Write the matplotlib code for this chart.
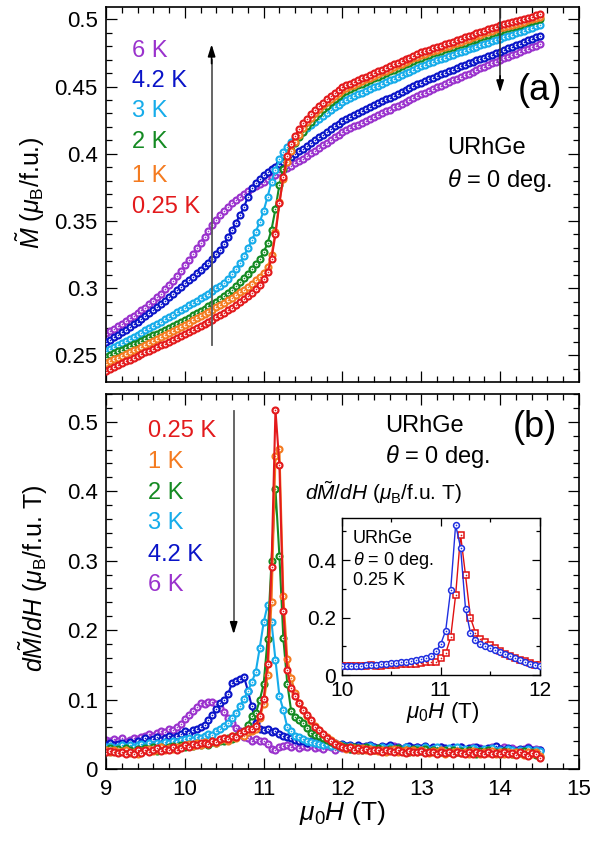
import numpy as np
import matplotlib
matplotlib.use('Agg')
import matplotlib.pyplot as plt
from matplotlib.ticker import MultipleLocator, FormatStrFormatter

plt.rcParams['font.family'] = ['Liberation Sans', 'DejaVu Sans']
plt.rcParams['mathtext.fontset'] = 'custom'
plt.rcParams['mathtext.rm'] = 'Liberation Sans'
plt.rcParams['mathtext.it'] = 'Liberation Sans:italic'
plt.rcParams['mathtext.bf'] = 'Liberation Sans:bold'

# measurement grid, 0.05 T steps
field = np.round(np.arange(9.0, 14.5001, 0.05), 2)
field_inset = np.round(np.arange(10.0, 12.0001, 0.05), 2)

temps = ['0.25 K', '1 K', '2 K', '3 K', '4.2 K', '6 K']
colors = ['#e31a1c', '#f47b20', '#148a22', '#16acea', '#0a14c8', '#9a32cd']

# magnetization (mu_B/f.u.)
m_025 = [.2380, .2395, .2410, .2425, .2440, .2455, .2468, .2482, .2495, .2508,
         .2521, .2534, .2547, .2560, .2573, .2586, .2600, .2614, .2628, .2642,
         .2656, .2671, .2686, .2701, .2717, .2733, .2749, .2766, .2783, .2800,
         .2818, .2836, .2855, .2875, .2896, .2918, .2941, .2966, .2993, .3025,
         .3065, .3120, .3220, .3400, .3630, .3830, .3980, .4070, .4135, .4185,
         .4225, .4260, .4293, .4324, .4353, .4380, .4405, .4429, .4452, .4474,
         .4495, .4508, .4521, .4534, .4547, .4560, .4573, .4586, .4599, .4612,
         .4625, .4638, .4651, .4664, .4677, .4690, .4703, .4716, .4729, .4742,
         .4755, .4765, .4775, .4785, .4795, .4805, .4815, .4825, .4835, .4845,
         .4855, .4865, .4875, .4885, .4895, .4905, .4915, .4925, .4935, .4945,
         .4955, .4963, .4971, .4979, .4988, .4996, .5004, .5012, .5020, .5029,
         .5037]
m_1 = [.2441, .2455, .2469, .2483, .2497, .2511, .2524, .2537, .2550, .2563,
       .2577, .2591, .2605, .2619, .2634, .2649, .2664, .2679, .2695, .2711,
       .2727, .2743, .2759, .2775, .2791, .2807, .2823, .2840, .2857, .2874,
       .2892, .2910, .2929, .2948, .2968, .2989, .3011, .3034, .3058, .3084,
       .3115, .3155, .3245, .3420, .3640, .3815, .3935, .4020, .4085, .4140,
       .4195, .4233, .4268, .4301, .4331, .4359, .4385, .4409, .4432, .4454,
       .4475, .4488, .4501, .4514, .4527, .4540, .4553, .4566, .4579, .4592,
       .4605, .4618, .4631, .4644, .4657, .4670, .4683, .4696, .4709, .4722,
       .4735, .4745, .4755, .4765, .4775, .4785, .4795, .4805, .4815, .4825,
       .4835, .4845, .4855, .4865, .4875, .4885, .4895, .4905, .4915, .4925,
       .4935, .4943, .4951, .4959, .4968, .4976, .4984, .4992, .5000, .5009,
       .5017]
m_2 = [.2490, .2503, .2516, .2529, .2542, .2555, .2568, .2581, .2594, .2607,
       .2620, .2634, .2648, .2662, .2676, .2690, .2704, .2719, .2734, .2749,
       .2765, .2781, .2797, .2813, .2829, .2846, .2863, .2880, .2898, .2916,
       .2938, .2962, .2988, .3015, .3044, .3075, .3108, .3143, .3180, .3220,
       .3265, .3335, .3435, .3590, .3770, .3890, .3970, .4030, .4080, .4125,
       .4165, .4203, .4238, .4271, .4302, .4331, .4358, .4384, .4408, .4431,
       .4452, .4466, .4480, .4494, .4508, .4521, .4534, .4547, .4560, .4573,
       .4586, .4599, .4612, .4625, .4638, .4651, .4664, .4677, .4690, .4703,
       .4716, .4726, .4736, .4746, .4756, .4766, .4776, .4786, .4796, .4806,
       .4816, .4826, .4836, .4846, .4856, .4866, .4876, .4886, .4896, .4906,
       .4916, .4925, .4934, .4943, .4952, .4961, .4970, .4979, .4988, .4997,
       .5005]
m_3 = [.2535, .2549, .2563, .2578, .2593, .2608, .2623, .2638, .2653, .2669,
       .2685, .2701, .2717, .2733, .2750, .2767, .2784, .2801, .2819, .2837,
       .2855, .2872, .2889, .2906, .2923, .2941, .2959, .2978, .2998, .3018,
       .3040, .3070, .3105, .3145, .3190, .3240, .3295, .3355, .3420, .3490,
       .3575, .3680, .3790, .3880, .3960, .4010, .4050, .4085, .4115, .4140,
       .4163, .4190, .4215, .4239, .4262, .4284, .4305, .4326, .4346, .4366,
       .4385, .4399, .4413, .4427, .4441, .4455, .4468, .4481, .4494, .4507,
       .4520, .4533, .4546, .4559, .4572, .4585, .4598, .4611, .4624, .4637,
       .4650, .4661, .4672, .4683, .4694, .4705, .4716, .4727, .4737, .4747,
       .4757, .4767, .4777, .4787, .4797, .4807, .4817, .4827, .4837, .4847,
       .4857, .4867, .4877, .4887, .4897, .4907, .4917, .4927, .4937, .4947,
       .4957]
m_42 = [.2597, .2615, .2633, .2652, .2671, .2690, .2710, .2730, .2750, .2770,
        .2791, .2813, .2836, .2859, .2883, .2907, .2932, .2957, .2983, .3009,
        .3036, .3060, .3084, .3109, .3135, .3162, .3190, .3219, .3250, .3283,
        .3330, .3380, .3435, .3488, .3544, .3600, .3680, .3745, .3783, .3815,
        .3840, .3862, .3883, .3903, .3922, .3941, .3960, .3979, .3998, .4017,
        .4038, .4059, .4080, .4101, .4122, .4143, .4164, .4184, .4204, .4224,
        .4244, .4259, .4274, .4289, .4304, .4319, .4334, .4348, .4362, .4376,
        .4390, .4404, .4418, .4432, .4446, .4460, .4474, .4488, .4502, .4516,
        .4530, .4542, .4554, .4566, .4578, .4590, .4602, .4614, .4626, .4638,
        .4650, .4661, .4672, .4683, .4694, .4705, .4716, .4727, .4738, .4749,
        .4760, .4772, .4784, .4796, .4808, .4820, .4832, .4844, .4856, .4867,
        .4878]
m_6 = [.2664, .2681, .2699, .2717, .2736, .2755, .2774, .2794, .2814, .2834,
       .2855, .2878, .2903, .2930, .2959, .2990, .3022, .3056, .3092, .3130,
       .3170, .3210, .3252, .3295, .3339, .3383, .3427, .3469, .3507, .3541,
       .3573, .3603, .3631, .3657, .3681, .3703, .3723, .3742, .3760, .3777,
       .3793, .3810, .3827, .3844, .3861, .3878, .3895, .3912, .3929, .3946,
       .3963, .3983, .4003, .4023, .4043, .4063, .4083, .4103, .4122, .4142,
       .4161, .4175, .4189, .4203, .4217, .4231, .4245, .4259, .4273, .4287,
       .4301, .4315, .4329, .4344, .4358, .4372, .4386, .4400, .4414, .4428,
       .4442, .4455, .4468, .4481, .4494, .4507, .4520, .4533, .4546, .4559,
       .4572, .4585, .4597, .4610, .4622, .4635, .4647, .4660, .4672, .4684,
       .4696, .4709, .4721, .4733, .4745, .4757, .4769, .4781, .4793, .4805,
       .4817]

# dM/dH (mu_B/f.u. T)
d_025 = [.024, .026, .025, .023, .025, .022, .024, .021, .027, .023,
         .028, .025, .027, .030, .026, .029, .027, .031, .028, .030,
         .035, .032, .036, .034, .038, .037, .036, .041, .039, .043,
         .045, .043, .048, .046, .052, .054, .057, .058, .062, .076,
         .101, .151, .291, .517, .438, .227, .142, .116, .105, .095,
         .085, .078, .070, .061, .056, .050, .045, .040, .036, .033,
         .031, .030, .032, .028, .030, .027, .029, .026, .028, .027,
         .025, .027, .026, .024, .027, .025, .023, .026, .024, .025,
         .026, .023, .025, .024, .022, .025, .023, .024, .022, .025,
         .023, .022, .024, .021, .025, .023, .022, .024, .021, .023,
         .022, .024, .021, .023, .020, .024, .022, .019, .023, .021,
         .016]
d_1 = [.027, .025, .028, .024, .026, .027, .023, .025, .022, .026,
       .027, .029, .026, .028, .031, .027, .030, .029, .032, .031,
       .034, .036, .033, .037, .035, .039, .036, .040, .038, .042,
       .044, .041, .047, .045, .050, .048, .053, .055, .058, .073,
       .094, .135, .241, .450, .461, .249, .159, .131, .109, .095,
       .085, .077, .069, .062, .056, .050, .046, .042, .038, .034,
       .032, .029, .031, .030, .028, .030, .027, .029, .028, .026,
       .028, .025, .027, .029, .024, .026, .028, .025, .027, .024,
       .027, .025, .023, .026, .024, .027, .022, .025, .024, .026,
       .023, .025, .022, .026, .024, .021, .025, .023, .026, .022,
       .024, .022, .025, .021, .024, .023, .020, .024, .022, .025,
       .019]
d_2 = [.028, .030, .027, .029, .026, .030, .028, .025, .029, .027,
       .030, .028, .031, .026, .032, .029, .031, .033, .030, .034,
       .032, .035, .033, .036, .034, .037, .035, .039, .037, .041,
       .040, .044, .043, .047, .051, .055, .064, .076, .080, .099,
       .122, .187, .300, .403, .307, .188, .123, .083, .075, .071,
       .066, .059, .052, .049, .047, .044, .042, .039, .036, .034,
       .033, .031, .029, .032, .030, .028, .031, .029, .027, .030,
       .028, .026, .029, .027, .030, .026, .028, .025, .029, .027,
       .026, .029, .025, .028, .026, .024, .027, .025, .028, .024,
       .026, .023, .027, .025, .022, .026, .024, .027, .023, .025,
       .022, .026, .024, .021, .025, .023, .026, .022, .024, .020,
       .017]
d_3 = [.031, .033, .030, .032, .034, .031, .035, .032, .034, .036,
       .033, .037, .035, .038, .036, .039, .037, .041, .039, .042,
       .043, .045, .042, .046, .044, .048, .051, .049, .054, .058,
       .062, .066, .073, .080, .090, .101, .112, .125, .140, .174,
       .211, .236, .211, .157, .105, .085, .060, .055, .048, .046,
       .043, .041, .039, .037, .036, .034, .036, .033, .035, .032,
       .034, .031, .033, .030, .032, .029, .031, .033, .030, .028,
       .031, .029, .032, .028, .030, .027, .031, .029, .027, .030,
       .028, .031, .027, .029, .032, .028, .026, .030, .028, .031,
       .027, .029, .026, .030, .028, .025, .029, .027, .030, .026,
       .028, .025, .029, .027, .024, .028, .026, .029, .025, .027,
       .026]
d_42 = [.035, .037, .034, .036, .038, .035, .039, .036, .040, .037,
        .045, .041, .043, .046, .042, .045, .048, .044, .047, .050,
        .054, .052, .056, .058, .061, .064, .070, .078, .087, .095,
        .099, .108, .124, .127, .129, .133, .113, .090, .066, .058,
        .056, .057, .053, .055, .050, .048, .046, .044, .042, .040,
        .041, .038, .040, .037, .039, .036, .038, .035, .037, .034,
        .036, .033, .035, .032, .034, .031, .033, .035, .032, .030,
        .033, .031, .034, .030, .032, .029, .031, .033, .030, .032,
        .030, .033, .029, .031, .028, .032, .030, .027, .031, .029,
        .031, .028, .030, .027, .031, .029, .026, .030, .028, .033,
        .029, .027, .030, .028, .026, .029, .027, .030, .028, .026,
        .028]
d_6 = [.042, .040, .043, .041, .044, .039, .042, .045, .043, .046,
       .048, .050, .047, .052, .055, .053, .058, .056, .061, .065,
       .072, .078, .083, .089, .095, .094, .097, .096, .093, .088,
       .082, .073, .066, .059, .054, .046, .044, .041, .043, .041,
       .040, .036, .029, .027, .031, .033, .035, .032, .034, .030,
       .033, .031, .034, .030, .032, .029, .033, .031, .028, .032,
       .030, .033, .029, .031, .028, .032, .030, .027, .031, .029,
       .032, .028, .030, .033, .029, .027, .031, .028, .030, .032,
       .029, .031, .027, .030, .028, .032, .029, .026, .030, .028,
       .031, .027, .029, .032, .028, .030, .026, .029, .031, .027,
       .029, .031, .027, .030, .028, .025, .029, .031, .027, .029,
       .027]

# inset, 0.25 K, two sweeps
ins_circ = [.030, .030, .031, .033, .033, .034, .036, .035, .038, .040,
            .042, .041, .047, .044, .050, .051, .055, .058, .065, .082,
            .108, .155, .296, .523, .444, .230, .146, .123, .108, .100,
            .093, .088, .080, .072, .066, .058, .052, .045, .040, .035,
            .033]
ins_sq = [.031, .030, .032, .030, .033, .031, .034, .032, .033, .035,
          .036, .035, .038, .037, .040, .039, .042, .045, .045, .047,
          .061, .076, .131, .278, .488, .347, .199, .148, .125, .115,
          .105, .095, .085, .075, .068, .060, .054, .048, .042, .036,
          .035]

mag = [m_025, m_1, m_2, m_3, m_42, m_6]
deriv = [d_025, d_1, d_2, d_3, d_42, d_6]


def draw(ax, x, y, c, ms=4.3, mew=1.55, lw=1.5, marker='o', z=2):
    ax.plot(x, y, '-', color=c, lw=lw, marker=marker, ms=ms, mfc='white',
            mec=c, mew=mew, zorder=z)
    ax.plot(x, y, linestyle='none', marker='o', ms=1.2, color=c, mew=0,
            zorder=z)


def style(ax, fs=16, major=8, minor=4):
    ax.tick_params(which='both', direction='in', top=True, right=True,
                   width=0.9, labelsize=fs)
    ax.tick_params(which='major', length=major)
    ax.tick_params(which='minor', length=minor)
    for s in ax.spines.values():
        s.set_linewidth(1.2)


fig = plt.figure(figsize=(5.92, 8.42), dpi=100)
ax1 = fig.add_axes([0.179, 0.5463, 0.799, 0.4454])
ax2 = fig.add_axes([0.179, 0.0867, 0.799, 0.4454])
ins = fig.add_axes([0.577, 0.1983, 0.335, 0.1865])

# draw high T first so 0.25 K ends on top
for k in range(5, -1, -1):
    draw(ax1, field, mag[k], colors[k], z=2 + (5 - k))
    draw(ax2, field, deriv[k], colors[k], z=2 + (5 - k))

# panel (a)
ax1.set_xlim(9, 15)
ax1.set_ylim(0.2301, 0.5092)
ax1.xaxis.set_major_locator(MultipleLocator(1))
ax1.xaxis.set_minor_locator(MultipleLocator(0.2))
ax1.yaxis.set_major_locator(MultipleLocator(0.05))
ax1.yaxis.set_minor_locator(MultipleLocator(0.01))
ax1.yaxis.set_major_formatter(FormatStrFormatter('%g'))
ax1.set_xticklabels([])
style(ax1)
ax1.tick_params(axis='y', pad=6)

top_y = [0.450, 0.534, 0.623, 0.7075, 0.7875, 0.8675]
for k in range(6):
    ax1.text(0.054, top_y[k], temps[k], color=colors[k], fontsize=17,
             transform=ax1.transAxes, va='baseline', ha='left')
ax1.text(0.871, 0.752, '(a)', fontsize=26, transform=ax1.transAxes,
         va='baseline', ha='left')
ax1.text(0.721, 0.607, 'URhGe', fontsize=17, transform=ax1.transAxes,
         va='baseline', ha='left')
ax1.text(0.721, 0.521, r'$\theta$ = 0 deg.', fontsize=17,
         transform=ax1.transAxes, va='baseline', ha='left')

ax1.plot([10.34, 10.34], [0.2577, 0.47], color='0.35', lw=1.3, zorder=20)
ax1.annotate('', xy=(10.34, 0.4835), xytext=(10.34, 0.465),
             arrowprops=dict(arrowstyle='-|>,head_length=0.7,head_width=0.22',
                             color='k', lw=1.2), zorder=21)
ax1.plot([14.0, 14.0], [0.5092, 0.455], color='0.2', lw=1.2, zorder=20)
ax1.annotate('', xy=(14.0, 0.4435), xytext=(14.0, 0.46),
             arrowprops=dict(arrowstyle='-|>,head_length=0.7,head_width=0.22',
                             color='k', lw=1.2), zorder=21)

# panel (b)
ax2.set_xlim(9, 15)
ax2.set_ylim(0, 0.54)
ax2.xaxis.set_major_locator(MultipleLocator(1))
ax2.xaxis.set_minor_locator(MultipleLocator(0.2))
ax2.yaxis.set_major_locator(MultipleLocator(0.1))
ax2.yaxis.set_minor_locator(MultipleLocator(0.02))
ax2.yaxis.set_major_formatter(FormatStrFormatter('%g'))
style(ax2)
ax2.tick_params(axis='y', pad=6)
ax2.tick_params(axis='x', pad=7)

bot_y = [0.8845, 0.802, 0.72, 0.639, 0.5555, 0.4755]
for k in range(6):
    ax2.text(0.0894, bot_y[k], temps[k], color=colors[k], fontsize=17,
             transform=ax2.transAxes, va='baseline', ha='left')
ax2.text(0.861, 0.886, '(b)', fontsize=26, transform=ax2.transAxes,
         va='baseline', ha='left')
ax2.text(0.590, 0.8995, 'URhGe', fontsize=17, transform=ax2.transAxes,
         va='baseline', ha='left')
ax2.text(0.590, 0.815, r'$\theta$ = 0 deg.', fontsize=17,
         transform=ax2.transAxes, va='baseline', ha='left')

ax2.plot([10.62, 10.62], [0.515, 0.205], color='0.35', lw=1.3, zorder=20)
ax2.annotate('', xy=(10.62, 0.19), xytext=(10.62, 0.215),
             arrowprops=dict(arrowstyle='-|>,head_length=0.7,head_width=0.22',
                             color='k', lw=1.2), zorder=21)

# inset
draw(ins, field_inset, ins_sq, '#e01010', ms=4.6, mew=1.1, lw=1.0,
     marker='s', z=3)
draw(ins, field_inset, ins_circ, '#1f2fe0', ms=4.2, mew=1.1, lw=1.0, z=4)
ins.set_xlim(10, 12)
ins.set_ylim(0, 0.547)
ins.xaxis.set_major_locator(MultipleLocator(1))
ins.xaxis.set_minor_locator(MultipleLocator(0.5))
ins.yaxis.set_major_locator(MultipleLocator(0.2))
ins.yaxis.set_minor_locator(MultipleLocator(0.1))
ins.yaxis.set_major_formatter(FormatStrFormatter('%g'))
style(ins, fs=15, major=6, minor=3)
ins.tick_params(axis='x', pad=4)
ins.tick_params(axis='y', pad=4)
for s in ins.spines.values():
    s.set_linewidth(1.0)
ins.text(0.058, 0.839, 'URhGe', fontsize=13, transform=ins.transAxes,
         va='baseline')
ins.text(0.058, 0.70, r'$\theta$ = 0 deg.', fontsize=13,
         transform=ins.transAxes, va='baseline')
ins.text(0.058, 0.573, '0.25 K', fontsize=13, transform=ins.transAxes,
         va='baseline')

# axis labels
fig.text(47 / 592, 0.7708, r'$\tilde{M}$ ($\mu_{\rm B}$/f.u.)', fontsize=18,
         rotation=90, ha='right', va='center')
fig.text(50 / 592, 0.3135, r'$d\tilde{M}/dH$ ($\mu_{\rm B}$/f.u. T)',
         fontsize=18, rotation=90, ha='right', va='center')
fig.text(342.5 / 592, 1 - 820 / 842, r'$\mu_0H$ (T)', fontsize=19,
         ha='center', va='baseline')
fig.text(305 / 592, 1 - 500 / 842, r'$d\tilde{M}/dH$ ($\mu_{\rm B}$/f.u. T)',
         fontsize=15, ha='left', va='baseline')
fig.text(443 / 592, 1 - 718 / 842, r'$\mu_0H$ (T)', fontsize=16,
         ha='center', va='baseline')

fig.savefig('out.png', dpi=100)
